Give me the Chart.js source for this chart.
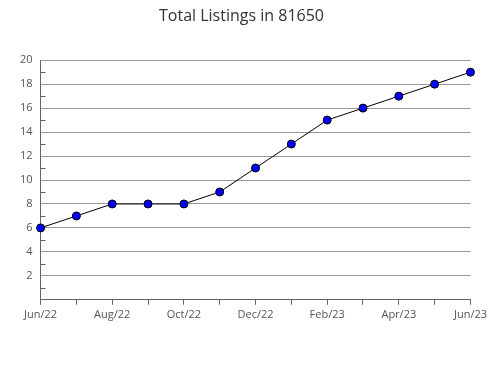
<!DOCTYPE html>
<html>
<head>
<meta charset="utf-8">
<script src="https://cdn.jsdelivr.net/npm/chart.js@4"></script>
<style>
  html, body { margin: 0; padding: 0; background: #fff; }
  #wrap { width: 490px; height: 380px; }
</style>
</head>
<body>
<div id="wrap"><canvas id="chart"></canvas></div>
<script>
const months = ['Jun/22', 'Jul/22', 'Aug/22', 'Sep/22', 'Oct/22', 'Nov/22', 'Dec/22',
                'Jan/23', 'Feb/23', 'Mar/23', 'Apr/23', 'May/23', 'Jun/23'];
const listings = [6, 7, 8, 8, 8, 9, 11, 13, 15, 16, 17, 18, 19];
const yMin = 0;
const yMax = 20;

// short inward ticks on the y axis at odd values
const minorTicks = {
    id: 'minorTicks',
    afterDraw(chart) {
        const y = chart.scales.y;
        const ctx = chart.ctx;
        ctx.save();
        ctx.strokeStyle = '#666';
        ctx.lineWidth = 1;
        for (let v = yMin + 1; v < yMax; v += 2) {
            const py = Math.round(y.getPixelForValue(v)) + 0.5;
            ctx.beginPath();
            ctx.moveTo(y.right, py);
            ctx.lineTo(y.right + 5, py);
            ctx.stroke();
        }
        ctx.restore();
    }
};

new Chart(document.getElementById('chart'), {
    type: 'line',
    data: {
        labels: months,
        datasets: [{
            data: listings,
            borderColor: '#000',
            borderWidth: 1,
            tension: 0,
            pointStyle: 'circle',
            pointRadius: 4,
            pointHoverRadius: 4,
            pointBackgroundColor: '#0000ff',
            pointBorderColor: '#000',
            pointBorderWidth: 1
        }]
    },
    options: {
        responsive: true,
        maintainAspectRatio: false,
        animation: false,
        layout: { padding: { left: 12, right: 19, top: 0, bottom: 56 } },
        plugins: {
            legend: { display: false },
            tooltip: { enabled: false },
            title: {
                display: true,
                text: 'Total Listings in 81650',
                color: '#333',
                font: { family: 'Open Sans', size: 16, weight: 'normal' },
                padding: { top: 7, bottom: 34 }
            }
        },
        scales: {
            x: {
                offset: false,
                border: { color: '#666' },
                grid: { drawOnChartArea: false, drawTicks: true, tickLength: 5, color: '#666' },
                ticks: {
                    autoSkip: false,
                    maxRotation: 0,
                    color: '#555',
                    font: { family: 'Open Sans', size: 11 },
                    padding: 3,
                    callback: (v, i) => i % 2 === 0 ? months[i] : ''
                }
            },
            y: {
                min: yMin,
                max: yMax,
                border: { color: '#666' },
                grid: {
                    drawTicks: false,
                    color: ctx => (ctx.tick.value % 2 === 0 && ctx.tick.value !== 0) ? '#999' : 'rgba(0,0,0,0)'
                },
                ticks: {
                    stepSize: 1,
                    color: '#555',
                    font: { family: 'Open Sans', size: 11 },
                    padding: 8,
                    callback: v => (v % 2 === 0 && v !== 0) ? v : ''
                }
            }
        }
    },
    plugins: [minorTicks]
});
</script>
</body>
</html>
